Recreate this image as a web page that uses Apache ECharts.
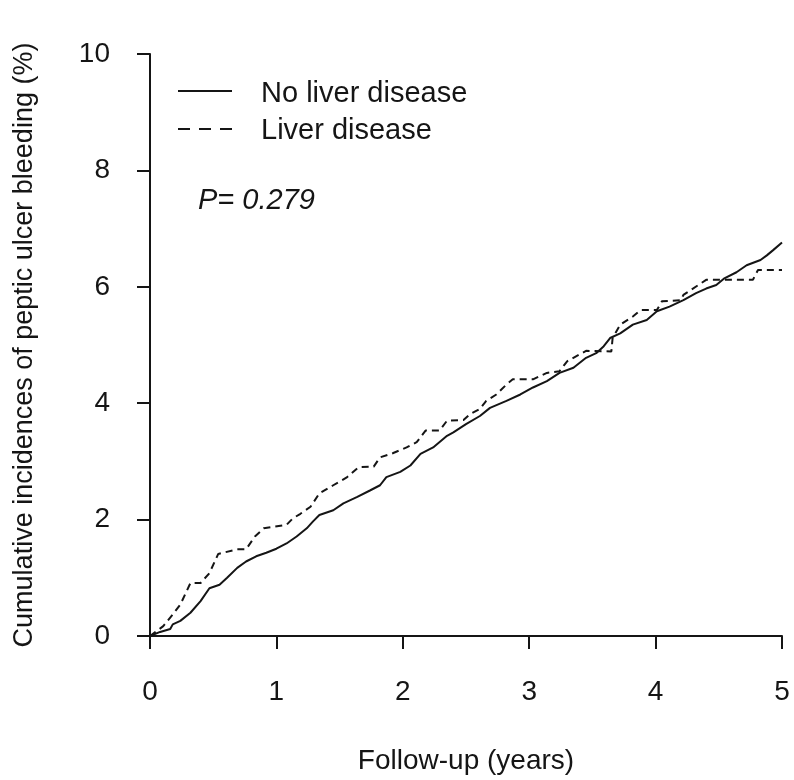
<!DOCTYPE html>
<html>
<head>
<meta charset="utf-8">
<script src="https://cdn.jsdelivr.net/npm/echarts@6/dist/echarts.min.js"></script>
<style>html,body{margin:0;padding:0;background:#fff}#c{width:794px;height:780px}</style>
</head>
<body>
<div id="c"></div>
<script>
var xTicks = [0, 1, 2, 3, 4, 5];
var yTicks = [0, 2, 4, 6, 8, 10];
var seriesNames = ['No liver disease', 'Liver disease'];
var pText = 'P= 0.279';

var noLiverT = [0,0.08,0.16,0.18,0.24,0.32,0.40,0.47,0.55,0.61,0.69,0.76,0.84,0.92,1.00,1.08,1.16,1.24,1.29,1.34,1.45,1.53,1.64,1.74,1.82,1.87,1.98,2.06,2.14,2.24,2.35,2.40,2.50,2.61,2.69,2.82,2.93,3.03,3.14,3.24,3.35,3.45,3.53,3.59,3.64,3.72,3.82,3.93,4.01,4.11,4.22,4.32,4.40,4.48,4.54,4.64,4.72,4.83,4.88,4.93,5.00];
var noLiverV = [0,0.07,0.12,0.20,0.26,0.40,0.60,0.82,0.88,1.00,1.17,1.28,1.37,1.43,1.50,1.59,1.71,1.85,1.97,2.08,2.16,2.28,2.39,2.50,2.59,2.73,2.82,2.93,3.13,3.24,3.44,3.50,3.64,3.78,3.92,4.04,4.15,4.27,4.38,4.52,4.61,4.78,4.86,4.98,5.12,5.20,5.35,5.43,5.58,5.66,5.77,5.89,5.97,6.03,6.14,6.25,6.37,6.46,6.54,6.63,6.76];

var liverT = [0,0.105,0.18,0.24,0.32,0.40,0.47,0.54,0.69,0.76,0.83,0.90,1.08,1.13,1.19,1.27,1.34,1.45,1.56,1.65,1.77,1.82,1.92,2.03,2.11,2.18,2.29,2.35,2.48,2.53,2.61,2.66,2.74,2.82,2.87,3.03,3.14,3.24,3.30,3.40,3.45,3.65,3.66,3.72,3.82,3.88,4.01,4.05,4.20,4.22,4.40,4.77,4.81,5.00];
var liverV = [0,0.17,0.37,0.54,0.91,0.91,1.08,1.41,1.49,1.49,1.71,1.85,1.91,2.02,2.10,2.22,2.45,2.59,2.73,2.90,2.91,3.07,3.14,3.24,3.33,3.53,3.53,3.70,3.71,3.81,3.90,4.04,4.15,4.32,4.41,4.41,4.52,4.55,4.72,4.84,4.90,4.89,5.12,5.35,5.49,5.60,5.60,5.75,5.77,5.86,6.12,6.12,6.29,6.29];

function pairs(t, v) { return t.map(function (x, i) { return [x, v[i]]; }); }

var FONT = '"Liberation Sans", Arial, sans-serif';
var INK = '#151515';
var chart = echarts.init(document.getElementById('c'), null, {renderer: 'canvas'});
chart.setOption({
  animation: false,
  backgroundColor: '#fff',
  grid: {left: 150, right: 12, top: 54, bottom: 140, containLabel: false},
  xAxis: {
    type: 'value', min: xTicks[0], max: xTicks[xTicks.length - 1], interval: 1,
    name: 'Follow-up (years)', nameLocation: 'middle', nameGap: 111,
    nameTextStyle: {fontFamily: FONT, fontSize: 28, color: INK},
    axisLine: {lineStyle: {color: INK, width: 2}},
    axisTick: {length: 13, lineStyle: {color: INK, width: 2}},
    axisLabel: {fontFamily: FONT, fontSize: 28, color: INK, margin: 42},
    splitLine: {show: false}
  },
  yAxis: {
    type: 'value', min: yTicks[0], max: yTicks[yTicks.length - 1], interval: 2,
    name: 'Cumulative incidences of peptic ulcer bleeding (%)', nameLocation: 'middle', nameGap: 112,
    nameTextStyle: {fontFamily: FONT, fontSize: 27, color: INK},
    axisLine: {show: true, lineStyle: {color: INK, width: 2}},
    axisTick: {show: true, length: 13, lineStyle: {color: INK, width: 2}},
    axisLabel: {fontFamily: FONT, fontSize: 28, color: INK, margin: 40},
    splitLine: {show: false}
  },
  series: [
    {name: seriesNames[0], type: 'line', data: pairs(noLiverT, noLiverV), showSymbol: false,
     lineStyle: {color: INK, width: 2, type: 'solid'}},
    {name: seriesNames[1], type: 'line', data: pairs(liverT, liverV), showSymbol: false,
     lineStyle: {color: INK, width: 2, type: [7, 5]}}
  ],
  graphic: [
    {type: 'line', shape: {x1: 178, y1: 91, x2: 232, y2: 91}, style: {stroke: INK, lineWidth: 2}},
    {type: 'text', x: 261, y: 94, style: {text: seriesNames[0], font: '29px ' + FONT, fill: INK, textVerticalAlign: 'middle'}},
    {type: 'line', shape: {x1: 178, y1: 129, x2: 232, y2: 129}, style: {stroke: INK, lineWidth: 2, lineDash: [12, 9]}},
    {type: 'text', x: 261, y: 131, style: {text: seriesNames[1], font: '29px ' + FONT, fill: INK, textVerticalAlign: 'middle'}},
    {type: 'text', x: 198, y: 201, style: {text: pText, font: 'italic 29px ' + FONT, fill: INK, textVerticalAlign: 'middle'}}
  ]
});
</script>
</body>
</html>
